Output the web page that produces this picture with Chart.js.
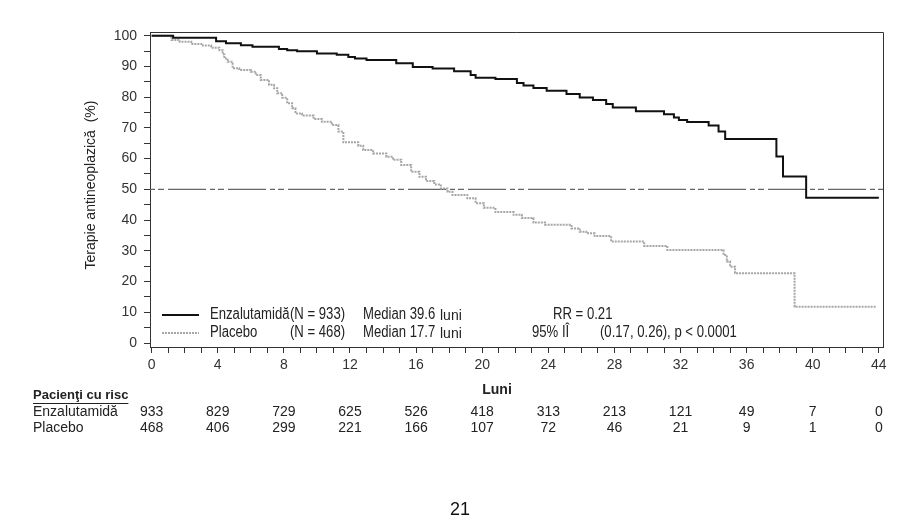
<!DOCTYPE html>
<html>
<head>
<meta charset="utf-8">
<script src="https://cdn.jsdelivr.net/npm/chart.js@4.4.1/dist/chart.umd.min.js"></script>
<style>
html,body{margin:0;padding:0;background:#fff;}
#wrap{width:916px;height:529px;position:relative;}
</style>
</head>
<body>
<div id="wrap"><canvas id="c" width="916" height="529"></canvas></div>
<script>
// ---- data ----
const enzTimes = [0,1.3,3.9,4.5,5.4,6.1,7.7,8.2,8.8,10.0,11.2,11.9,12.3,13.0,14.8,15.8,17.0,18.3,19.3,19.6,20.8,22.1,22.5,23.1,23.9,25.1,25.9,26.7,27.5,27.9,29.3,31.0,31.6,31.9,32.4,33.7,34.3,34.7,37.8,38.2,39.6,44.0];
const enzSurv  = [100,99.3,98.2,97.5,96.9,96.4,95.7,95.3,94.9,94.2,93.8,93.1,92.6,92.1,91.0,89.8,89.3,88.4,87.2,86.3,85.9,84.6,83.8,83.0,82.1,81.0,79.9,79.1,77.8,76.6,75.4,74.4,73.4,72.6,71.9,70.8,68.8,66.4,60.7,54.2,47.3,47.3];
const plaTimes = [0,1.2,1.7,2.4,3.1,3.6,4.1,4.3,4.4,4.6,4.9,5.3,6.0,6.3,6.6,7.1,7.4,7.6,7.9,8.2,8.5,8.7,9.1,9.8,10.3,10.9,11.3,11.6,12.5,12.8,13.4,14.2,14.6,15.1,15.7,16.2,16.6,17.1,17.5,17.9,18.2,19.1,19.6,20.1,20.8,21.9,22.4,23.1,23.8,25.4,25.9,26.3,26.8,27.8,29.8,31.2,34.6,34.8,35.0,35.3,38.9,43.8];
const plaSurv  = [100,98.6,98.0,97.3,96.8,96.1,95.3,93.9,92.6,91.5,89.4,88.8,88.3,87.2,85.6,84.0,82.9,81.3,79.8,78.0,76.4,74.7,74.0,72.9,72.0,70.9,68.8,65.3,64.2,62.8,61.7,60.6,59.6,57.9,55.7,54.1,52.7,51.6,50.3,49.2,48.2,47.1,45.5,44.0,42.6,41.7,40.7,39.2,38.5,37.3,36.2,35.7,34.8,33.0,31.6,30.3,28.6,26.5,24.8,22.7,11.8,11.8];
const medianTimes = [-0.1, 44.25];
const medianLevel = [50, 50];

const xTickValues = [0,1,2,3,4,5,6,7,8,9,10,11,12,13,14,15,16,17,18,19,20,21,22,23,24,25,26,27,28,29,30,31,32,33,34,35,36,37,38,39,40,41,42,43,44];
const xTickLabels = [0,4,8,12,16,20,24,28,32,36,40,44];
const yTickValues = [0,5,10,15,20,25,30,35,40,45,50,55,60,65,70,75,80,85,90,95,100];
const yTickLabels = [0,10,20,30,40,50,60,70,80,90,100];

const riskMonths = [0,4,8,12,16,20,24,28,32,36,40,44];
const riskEnz = [933,829,729,625,526,418,313,213,121,49,7,0];
const riskPla = [468,406,299,221,166,107,72,46,21,9,1,0];

const seriesNames = ['Enzalutamidă','Placebo'];
const seriesN = ['(N = 933)','(N = 468)'];
const seriesMedian = ['Median 39.6','Median 17.7'];
const statsRR = 'RR = 0.21';
const statsCI = ['95% IÎ', '(0.17, 0.26), p < 0.0001'];

// ---- styling ----
const SANS = '"Liberation Sans", Arial, sans-serif';
const ENZ_COLOR = '#111111';
const PLA_COLOR = '#a6a6a6';
const PLA_DASH = [2,1];

function pts(xs, ys){ return xs.map((x,i)=>({x:x, y:ys[i]})); }

function narrowText(ctx, text, x, y, size){
  ctx.save();
  ctx.font = size + 'px ' + SANS;
  ctx.textAlign = 'left'; ctx.textBaseline = 'middle';
  ctx.translate(x, y); ctx.scale(0.82, 1);
  ctx.fillText(text, 0, 0);
  ctx.restore();
}

const decor = {
  id:'decor',
  afterDraw(chart){
    const ctx = chart.ctx, a = chart.chartArea, xs = chart.scales.x;
    ctx.save();
    // top and right frame
    ctx.strokeStyle = '#333'; ctx.lineWidth = 1;
    ctx.beginPath();
    ctx.moveTo(a.left, a.top+0.5); ctx.lineTo(a.right+0.5, a.top+0.5); ctx.lineTo(a.right+0.5, a.bottom);
    ctx.stroke();

    // y axis title
    ctx.fillStyle = '#222';
    ctx.font = '14px ' + SANS;
    ctx.textAlign = 'center'; ctx.textBaseline = 'middle';
    ctx.save(); ctx.translate(91, 185); ctx.rotate(-Math.PI/2);
    ctx.fillText('Terapie antineoplazică  (%)', 0, 0);
    ctx.restore();

    // x axis title
    ctx.font = 'bold 14px ' + SANS;
    ctx.fillText('Luni', 497, 390);

    // legend
    const rows = [315, 333];
    ctx.lineWidth = 2;
    ctx.strokeStyle = ENZ_COLOR; ctx.setLineDash([]);
    ctx.beginPath(); ctx.moveTo(162, rows[0]); ctx.lineTo(199, rows[0]); ctx.stroke();
    ctx.strokeStyle = PLA_COLOR; ctx.setLineDash(PLA_DASH);
    ctx.beginPath(); ctx.moveTo(162, rows[1]); ctx.lineTo(199, rows[1]); ctx.stroke();
    ctx.setLineDash([]);
    for (let i=0;i<2;i++){
      narrowText(ctx, seriesNames[i], 210, rows[i], 16);
      narrowText(ctx, seriesN[i], 290, rows[i], 16);
      narrowText(ctx, seriesMedian[i], 363, rows[i], 16);
    }
    ctx.textAlign = 'left'; ctx.textBaseline = 'middle';
    ctx.font = '14px ' + SANS;
    for (let i=0;i<2;i++){ ctx.fillText('luni', 440, rows[i]+1); }
    narrowText(ctx, statsRR, 553, rows[0], 16);
    narrowText(ctx, statsCI[0], 532, rows[1], 16);
    narrowText(ctx, statsCI[1], 600, rows[1], 16);

    // at-risk table
    ctx.font = 'bold 13px ' + SANS;
    ctx.textAlign = 'left';
    const hdr = 'Pacienţi cu risc';
    ctx.fillText(hdr, 33, 395);
    const w = ctx.measureText(hdr).width;
    ctx.lineWidth = 1; ctx.strokeStyle = '#222';
    ctx.beginPath(); ctx.moveTo(33, 403.5); ctx.lineTo(33+w, 403.5); ctx.stroke();
    ctx.font = '14px ' + SANS;
    ctx.fillText(seriesNames[0], 33, 412);
    ctx.fillText(seriesNames[1], 33, 428);
    ctx.textAlign = 'center';
    for (let i=0;i<riskMonths.length;i++){
      const px = xs.getPixelForValue(riskMonths[i]);
      ctx.fillText(String(riskEnz[i]), px, 412);
      ctx.fillText(String(riskPla[i]), px, 428);
    }

    // page number
    ctx.font = '18px ' + SANS;
    ctx.fillStyle = '#111';
    ctx.fillText('21', 460, 510);
    ctx.restore();
  }
};

new Chart(document.getElementById('c'), {
  type: 'line',
  data: {
    datasets: [
      { label: seriesNames[0], data: pts(enzTimes, enzSurv), stepped: 'before', borderColor: ENZ_COLOR, borderWidth: 2, pointRadius: 0, fill: false },
      { label: seriesNames[1], data: pts(plaTimes, plaSurv), stepped: 'before', borderColor: PLA_COLOR, borderWidth: 2, borderDash: PLA_DASH, pointRadius: 0, fill: false },
      { label: 'median', data: pts(medianTimes, medianLevel), borderColor: '#666', borderWidth: 1.2, borderDash: [5,3,6,4,38,4], pointRadius: 0, fill: false }
    ]
  },
  options: {
    responsive: false,
    animation: false,
    devicePixelRatio: 1,
    events: [],
    layout: { padding: { top: 32, right: 33, left: 0, bottom: 0 } },
    plugins: { legend: { display: false }, tooltip: { enabled: false } },
    scales: {
      x: {
        type: 'linear', min: -0.1, max: 44.25,
        afterBuildTicks(s){ s.ticks = xTickValues.map(v=>({value:v})); },
        afterFit(s){ s.height = 182; },
        grid: { display: true, drawOnChartArea: false, drawTicks: true, tickLength: 6, color: '#333', lineWidth: 1 },
        border: { display: true, color: '#333', width: 1 },
        ticks: {
          autoSkip: false, maxRotation: 0, padding: 4, color: '#333',
          font: { family: SANS, size: 14 },
          callback(v){ return xTickLabels.includes(v) ? String(v) : ''; }
        }
      },
      y: {
        type: 'linear', min: -1.3, max: 101.2,
        afterBuildTicks(s){ s.ticks = yTickValues.map(v=>({value:v})); },
        afterFit(s){ s.width = 150; },
        grid: { display: true, drawOnChartArea: false, drawTicks: true, tickLength: 6, color: '#333', lineWidth: 1 },
        border: { display: true, color: '#333', width: 1 },
        ticks: {
          autoSkip: false, padding: 7, color: '#333',
          font: { family: SANS, size: 14 },
          callback(v){ return yTickLabels.includes(v) ? String(v) : ''; }
        }
      }
    }
  },
  plugins: [decor]
});
</script>
</body>
</html>
